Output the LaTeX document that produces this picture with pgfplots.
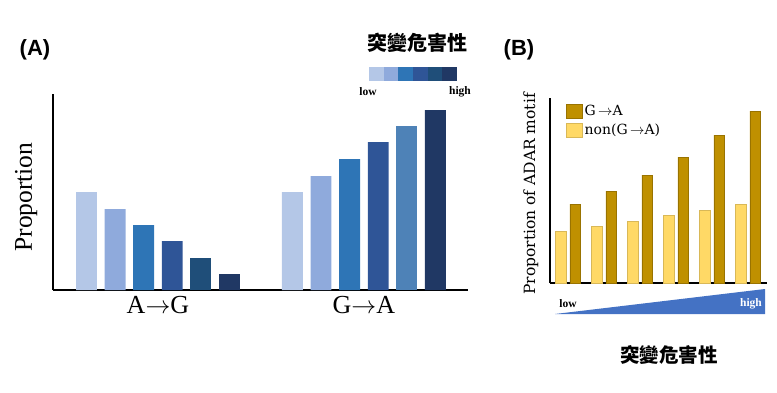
\documentclass[border=0pt]{standalone}
\usepackage{fontspec}
\setmainfont{Liberation Serif}
\newfontfamily\dvs{DejaVu Serif}
\newfontfamily\arialf{Liberation Sans}
\newfontfamily\cjk{Noto Sans CJK TC}
\usepackage{pgfplots}
\pgfplotsset{compat=1.18}
\definecolor{b1}{HTML}{B4C7E7}
\definecolor{b2}{HTML}{8FAADC}
\definecolor{b3}{HTML}{2E75B6}
\definecolor{b4}{HTML}{2F5597}
\definecolor{b5}{HTML}{1F4E79}
\definecolor{b5g}{HTML}{4E82B7}
\definecolor{b6}{HTML}{203864}
\definecolor{gdark}{HTML}{BF9000}
\definecolor{glight}{HTML}{FFD966}
\definecolor{tri}{HTML}{4472C4}
\begin{document}
\begin{tikzpicture}[x=1pt,y=1pt]
\useasboundingbox (0,0) rectangle (777,392);
% ---------- Panel A ----------
\begin{axis}[at={(53pt,102pt)}, anchor=south west, scale only axis,
  width=415pt, height=196pt,
  xmin=-1.17, xmax=13.34, ymin=0, ymax=196,
  axis x line=bottom, axis y line=left,
  axis line style={-, line width=1.6pt},
  ytick=\empty, xtick={2.5,9.7}, xticklabels={A$\rightarrow$G,G$\rightarrow$A},
  major tick length=0pt,
  xticklabel style={font=\fontsize{26}{28}\selectfont, yshift=-3pt},
  ylabel={Proportion},
  ylabel style={at={(axis description cs:-0.065,0.474)}, anchor=center, font=\fontsize{25.5}{28}\selectfont},
  ybar, bar width=0.73, clip=false]
\addplot[bar shift=0pt, fill=b1, draw=none] coordinates {(0,98) (7.2,98)};
\addplot[bar shift=0pt, fill=b2, draw=none] coordinates {(1,81) (8.2,114)};
\addplot[bar shift=0pt, fill=b3, draw=none] coordinates {(2,65) (9.2,131)};
\addplot[bar shift=0pt, fill=b4, draw=none] coordinates {(3,49) (10.2,148)};
\addplot[bar shift=0pt, fill=b5, draw=none] coordinates {(4,32)};
\addplot[bar shift=0pt, fill=b5g, draw=none] coordinates {(11.2,164)};
\addplot[bar shift=0pt, fill=b6, draw=none] coordinates {(5,16) (12.2,180)};
\end{axis}
% ---------- Panel B ----------
\begin{axis}[at={(550pt,109pt)}, anchor=south west, scale only axis,
  width=217pt, height=185pt,
  xmin=-0.5, xmax=5.53, ymin=0, ymax=185,
  axis x line=bottom, axis y line=left,
  axis line style={-, line width=1.6pt},
  ytick=\empty, xtick=\empty,
  ylabel={Proportion of ADAR motif},
  ylabel style={at={(axis description cs:-0.088,0.481)}, anchor=center, font=\dvs\fontsize{15.5}{17}\selectfont},
  ybar, bar width=0.29, clip=false,
  legend style={at={(axis description cs:0.074,0.975)}, anchor=north west,
    draw=none, fill=none, inner sep=0pt, row sep=3pt,
    font=\dvs\fontsize{14}{16}\selectfont, cells={anchor=west}},
  legend image code/.code={\draw[#1] (0pt,-7pt) rectangle (16pt,7pt);}]
\addplot[bar shift=0.2, fill=gdark, draw=gdark!80!black] coordinates {(0,79) (1,92) (2,108) (3,126) (4,148) (5,172)};
\addlegendentry{G\,$\rightarrow$A}
\addplot[bar shift=-0.2, fill=glight, draw=glight!85!black] coordinates {(0,52) (1,57) (2,62) (3,68) (4,73) (5,79)};
\addlegendentry{non(G\,$\rightarrow$A)}
\end{axis}
% ---------- decorations ----------
\node[font=\arialf\bfseries\fontsize{22}{24}\selectfont] at (35,342) {(A)};
\node[font=\arialf\bfseries\fontsize{22}{24}\selectfont] at (519,342) {(B)};
\node[font=\cjk\bfseries\fontsize{20}{22}\selectfont] at (417,349) {突變危害性};
\fill[b1] (369,311) rectangle (383.67,325);
\fill[b2] (383.67,311) rectangle (398.33,325);
\fill[b3] (398.33,311) rectangle (413,325);
\fill[b4] (413,311) rectangle (427.67,325);
\fill[b5] (427.67,311) rectangle (442.33,325);
\fill[b6] (442.33,311) rectangle (457,325);
\node[font=\bfseries\fontsize{11.5}{13}\selectfont] at (368,300) {low};
\node[font=\bfseries\fontsize{11.5}{13}\selectfont] at (460,300) {high};
\fill[tri] (555,78) -- (765,78) -- (765,103) -- cycle;
\node[font=\bfseries\fontsize{11.5}{13}\selectfont] at (568,88) {low};
\node[font=\bfseries\fontsize{11.5}{13}\selectfont, text=white] at (751,88) {high};
\node[font=\cjk\bfseries\fontsize{19.5}{21}\selectfont] at (669,37) {突變危害性};
\end{tikzpicture}
\end{document}
